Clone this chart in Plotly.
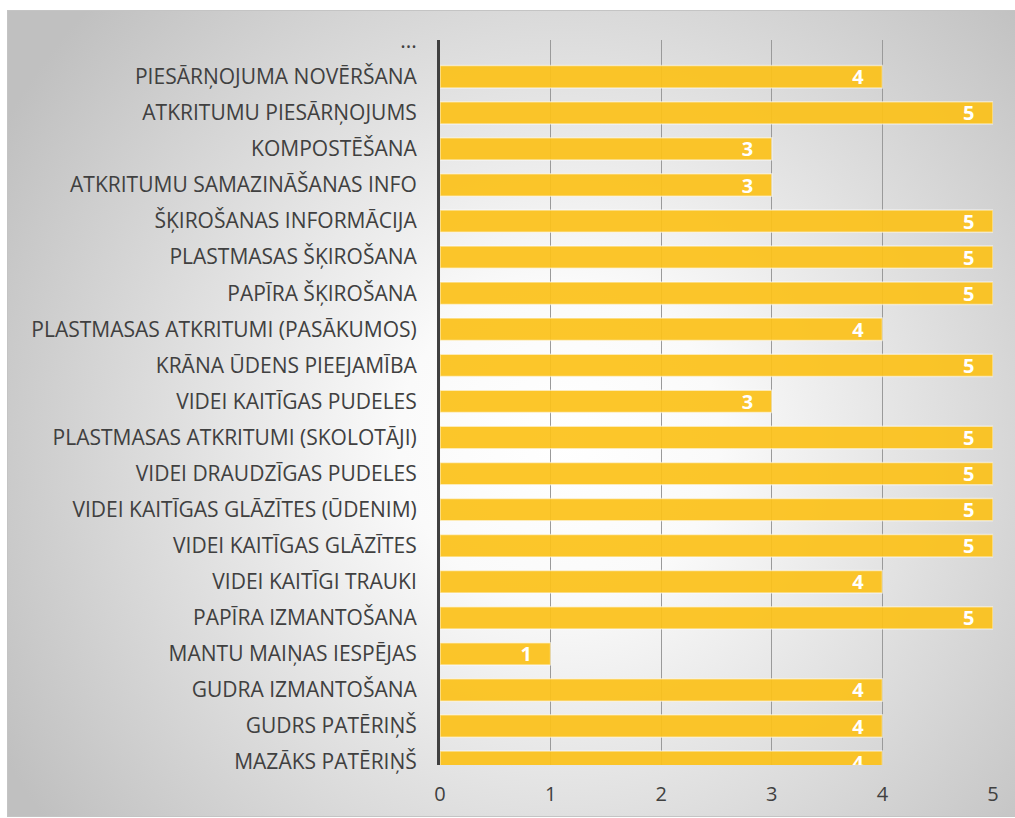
import base64
import plotly.graph_objects as go

categories = [
    "MAZĀKS PATĒRIŅŠ",
    "GUDRS PATĒRIŅŠ",
    "GUDRA IZMANTOŠANA",
    "MANTU MAIŅAS IESPĒJAS",
    "PAPĪRA IZMANTOŠANA",
    "VIDEI KAITĪGI TRAUKI",
    "VIDEI KAITĪGAS GLĀZĪTES",
    "VIDEI KAITĪGAS GLĀZĪTES (ŪDENIM)",
    "VIDEI DRAUDZĪGAS PUDELES",
    "PLASTMASAS ATKRITUMI (SKOLOTĀJI)",
    "VIDEI KAITĪGAS PUDELES",
    "KRĀNA ŪDENS PIEEJAMĪBA",
    "PLASTMASAS ATKRITUMI (PASĀKUMOS)",
    "PAPĪRA ŠĶIROŠANA",
    "PLASTMASAS ŠĶIROŠANA",
    "ŠĶIROŠANAS INFORMĀCIJA",
    "ATKRITUMU SAMAZINĀŠANAS INFO",
    "KOMPOSTĒŠANA",
    "ATKRITUMU PIESĀRŅOJUMS",
    "PIESĀRŅOJUMA NOVĒRŠANA",
    "...",
]
values = [4, 4, 4, 1, 5, 4, 5, 5, 5, 5, 3, 5, 4, 5, 5, 5, 3, 3, 5, 4, None]
x_ticks = [0, 1, 2, 3, 4, 5]

W, H = 1015, 818
ML, MR, MT, MB = 440, 22, 40, 53

bar_text = [("" if v is None else f"{v}\u00a0\u00a0\u00a0") for v in values]

fig = go.Figure(
    go.Bar(
        y=categories,
        x=values,
        orientation="h",
        width=0.62,
        marker=dict(color="#FCC21B", opacity=0.93,
                    line=dict(color="rgba(255,255,255,0.55)", width=1.5)),
        text=bar_text,
        textposition="inside",
        insidetextanchor="end",
        textangle=0,
        textfont=dict(family="Open Sans", size=20, color="white", weight="bold"),
        constraintext="none",
        hoverinfo="skip",
    )
)

# background: radial gradient (svg image)
svg = f'''<svg xmlns="http://www.w3.org/2000/svg" width="{W}" height="{H}" viewBox="0 0 {W} {H}" preserveAspectRatio="none">
<defs><radialGradient id="g" gradientUnits="userSpaceOnUse" cx="560" cy="440" r="640">
<stop offset="0" stop-color="#FFFFFF"/>
<stop offset="0.25" stop-color="#FAFAFA"/>
<stop offset="1" stop-color="#C0C0C0"/>
</radialGradient></defs>
<rect x="0" y="0" width="{W}" height="{H}" fill="#FFFFFF"/>
<rect x="7.5" y="10.5" width="{W-7}" height="{H-12}" fill="url(#g)" stroke="#C4C4C4" stroke-width="1"/>
</svg>'''
src = "data:image/svg+xml;base64," + base64.b64encode(svg.encode()).decode()
pw = W - ML - MR
ph = H - MT - MB
fig.add_layout_image(
    dict(source=src, xref="paper", yref="paper",
         x=-ML / pw, y=1 + MT / ph, sizex=W / pw, sizey=H / ph,
         xanchor="left", yanchor="top", sizing="stretch", layer="below")
)

fig.update_layout(
    width=W, height=H,
    margin=dict(l=ML, r=MR, t=MT, b=MB),
    paper_bgcolor="white",
    plot_bgcolor="rgba(0,0,0,0)",
    showlegend=False,
    font=dict(family="Open Sans", color="#404040"),
)
fig.update_xaxes(
    range=[0, 5],
    tickvals=x_ticks,
    ticktext=[str(t) for t in x_ticks],
    showgrid=True, gridcolor="#9A9A9A", gridwidth=1,
    zeroline=False, showline=False,
    tickfont=dict(size=20, color="#404040"),
    ticklabelstandoff=15,
    fixedrange=True,
)
fig.update_yaxes(
    type="category",
    categoryorder="array", categoryarray=categories,
    range=[-0.08, 20.02],
    showgrid=False, zeroline=False,
    showline=True, linecolor="#404040", linewidth=3,
    ticks="", tickfont=dict(size=21, color="#404040"),
    ticklabelstandoff=16,
    fixedrange=True,
)

fig.write_html("out.html", config={"displayModeBar": False},
               post_script="document.body.style.margin='0';")
